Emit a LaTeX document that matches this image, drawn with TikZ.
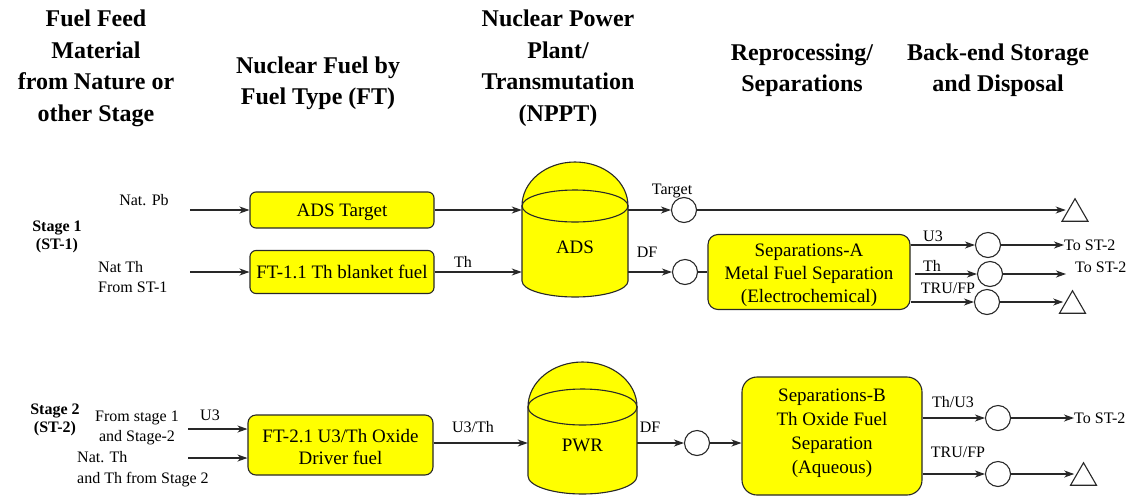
\documentclass[tikz,border=0pt]{standalone}
\usepackage{fontspec}
\setmainfont{Liberation Serif}
\newfontfamily\tnr{Liberation Serif}
\usetikzlibrary{arrows.meta,shapes.geometric}
\definecolor{fy}{RGB}{255,255,0}
\definecolor{lc}{RGB}{40,40,40}
\newcommand\hdf{\tnr\fontsize{24}{29}\selectfont\bfseries}
\newcommand\bxf{\tnr\fontsize{19}{23}\selectfont}
\newcommand\reactorshape[6]{%
  \filldraw[fill=fy, draw=lc, line width=1.1pt]
    (#1-#2,#3) -- (#1-#2,#4)
    arc[start angle=180, end angle=0, x radius=#2, y radius=#5]
    -- (#1+#2,#3)
    arc[start angle=0, end angle=-180, x radius=#2, y radius=#6] -- cycle;
  \draw[lc, line width=1.1pt] (#1,#3) ellipse[x radius=#2, y radius=#5];}
\begin{document}
\begin{tikzpicture}[x=1pt,y=-1pt,
  every node/.style={inner sep=0pt},
  lbl/.style={font=\tnr\fontsize{16}{20}\selectfont},
  stg/.style={font=\tnr\fontsize{16}{18.5}\selectfont\bfseries, align=center},
  hl/.style={anchor=base},
  fbox/.style={draw=lc, fill=fy, line width=1.1pt, rounded corners=6pt},
  pt/.style={circle, draw=lc, line width=1.1pt, fill=white, minimum size=25pt},
  tri/.style={regular polygon, regular polygon sides=3, draw=lc, line width=1.1pt,
    fill=white, minimum size=30pt},
  arr/.style={draw=lc, line width=1.1pt, -{Stealth[length=10pt,width=7pt,inset=3pt]}},
  conn/.style={draw=lc, line width=1.1pt}]
\useasboundingbox (0,0) rectangle (1132,496);
\fill[white] (0,0) rectangle (1132,496);

% headings
\node[hl] (h1a) at (96,26.5) {\hdf Fuel Feed};
\node[hl] (h1b) at (96,58) {\hdf Material};
\node[hl] (h1c) at (96,89.5) {\hdf from Nature or};
\node[hl] (h1d) at (96,121) {\hdf other Stage};
\node[hl] (h2a) at (318,73) {\hdf Nuclear Fuel by};
\node[hl] (h2b) at (318,104.5) {\hdf Fuel Type (FT)};
\node[hl] (h3a) at (558,26.5) {\hdf Nuclear Power};
\node[hl] (h3b) at (558,58) {\hdf Plant/};
\node[hl] (h3c) at (558,89.5) {\hdf Transmutation};
\node[hl] (h3d) at (558,121) {\hdf (NPPT)};
\node[hl] (h4a) at (802,60) {\hdf Reprocessing/};
\node[hl] (h4b) at (802,91.5) {\hdf Separations};
\node[hl] (h5a) at (998,60) {\hdf Back-end Storage};
\node[hl] (h5b) at (998,91.5) {\hdf and Disposal};

% ---------------- Stage 1
\node[stg] (s1) at (57,237) {Stage 1\\(ST-1)};
\node[lbl] (lpb) at (144,200) {Nat. Pb};
\node[lbl, align=left, anchor=west] (lth) at (98,277) {Nat Th\\From ST-1};
\coordinate (in1) at (190,0);

\node[fbox, minimum width=184pt, minimum height=36pt] (adst) at (342,210) {};
\node[hl] (adstT) at (342,216.5) {\bxf ADS Target};
\node[fbox, minimum width=184pt, minimum height=43pt] (ft11) at (342,272) {};
\node[hl] (ft11T) at (342,278.5) {\bxf FT-1.1 Th blanket fuel};
\draw[arr] (in1 |- adst.west) -- (adst.west);
\draw[arr] (in1 |- ft11.west) -- (ft11.west);

\reactorshape{575}{53}{206}{281}{16}{44}
\node[minimum width=106pt, minimum height=60pt] (ads) at (575,247) {};
\node[hl] (adsT) at (575,253.5) {\bxf ADS};
\draw[arr] (adst.east) -- (adst.east -| ads.west);
\draw[arr] (ft11.east) -- (ft11.east -| ads.west);
\node[lbl] (lth2) at (463,262) {Th};

\node[pt] (c1) at (684,210) {};
\node[pt] (c2) at (685,272) {};
\draw[arr] (c1 -| ads.east) -- (c1.west);
\draw[arr] (c2 -| ads.east) -- (c2.west);
\node[lbl] (ltg) at (672,191) {Target};
\node[lbl] (ldf1) at (647,252) {DF};

\node[tri] (t1) at (1075,213.75) {};
\draw[arr] (c1.east) -- (c1 -| t1.west);

\node[fbox, rounded corners=10pt, minimum width=202pt, minimum height=75pt] (sepa) at (809,272) {};
\node[hl] (sepaT1) at (809,256.5) {\bxf Separations-A};
\node[hl] (sepaT2) at (809,279.5) {\bxf Metal Fuel Separation};
\node[hl] (sepaT3) at (809,302.5) {\bxf (Electrochemical)};
\draw[conn] (c2.east) -- (c2 -| sepa.west);

\coordinate (yu3) at (0,245);
\coordinate (ytr) at (0,302);
\node[pt] (c3) at (988,245) {};
\node[pt] (c4) at (990,274) {};
\node[pt] (c5) at (987,302) {};
\draw[arr] (yu3 -| sepa.east) -- (c3.west);
\coordinate (thst) at (915,274);
\draw[arr] (thst) -- (c4.west);
\draw[arr] (ytr -| sepa.east) -- (c5.west);
\node[lbl] (lu3) at (933,236) {U3};
\node[lbl] (lth3) at (932,266) {Th};
\node[lbl] (ltr1) at (948,288) {TRU/FP};

\node[lbl, anchor=west] (to1) at (1064,245) {To ST-2};
\draw[arr] (c3.east) -- (to1.west);
\coordinate (e4) at (1066,274);
\draw[arr] (c4.east) -- (e4);
\node[lbl, anchor=west] (to2) at (1075,267) {To ST-2};
\node[tri] (t2) at (1072.5,305.75) {};
\draw[arr] (c5.east) -- (c5 -| t2.west);

% ---------------- Stage 2
\node[stg] (s2) at (55,420) {Stage 2\\(ST-2)};
\node[lbl, align=center] (lfs) at (137,427.5) {From stage 1\\and Stage-2};
\node[lbl] (lu3b) at (210,415) {U3};
\node[lbl, align=left, anchor=west, font=\tnr\fontsize{16}{21.5}\selectfont] (lnt) at (77,469) {Nat. Th\\and Th from Stage 2};
\coordinate (in2) at (188,429);
\coordinate (in3) at (188,458);

\node[fbox, rounded corners=8pt, minimum width=185pt, minimum height=60pt] (ft21) at (340.5,445) {};
\node[hl] (ft21T1) at (340.5,442.5) {\bxf FT-2.1 U3/Th Oxide};
\node[hl] (ft21T2) at (340.5,464.5) {\bxf Driver fuel};
\draw[arr] (in2) -- (in2 -| ft21.west);
\draw[arr] (in3) -- (in3 -| ft21.west);

\reactorshape{582.5}{54.5}{407}{476}{18}{45}
\node[minimum width=109pt, minimum height=60pt] (pwr) at (582.5,445) {};
\node[hl] (pwrT) at (582.5,451.5) {\bxf PWR};
\coordinate (y43) at (0,443);
\draw[arr] (y43 -| ft21.east) -- (y43 -| pwr.west);
\node[lbl] (lut) at (473,427) {U3/Th};

\node[pt] (c6) at (697,443) {};
\draw[arr] (y43 -| pwr.east) -- (c6.west);
\node[lbl] (ldf2) at (650,427) {DF};

\node[fbox, rounded corners=15pt, minimum width=180pt, minimum height=118pt] (sepb) at (832,436) {};
\node[hl] (sepbT1) at (832,401.5) {\bxf Separations-B};
\node[hl] (sepbT2) at (832,425.5) {\bxf Th Oxide Fuel};
\node[hl] (sepbT3) at (832,449.5) {\bxf Separation};
\node[hl] (sepbT4) at (832,473.5) {\bxf (Aqueous)};
\draw[arr] (c6.east) -- (c6 -| sepb.west);

\node[pt] (c7) at (998,418) {};
\node[pt] (c8) at (998,474) {};
\draw[arr] (c7 -| sepb.east) -- (c7.west);
\draw[arr] (c8 -| sepb.east) -- (c8.west);
\node[lbl] (lthu) at (953,402) {Th/U3};
\node[lbl] (ltr2) at (958,452) {TRU/FP};
\node[lbl, anchor=west] (to3) at (1074,418) {To ST-2};
\draw[arr] (c7.east) -- (to3.west);
\node[tri] (t3) at (1083.5,477.75) {};
\draw[arr] (c8.east) -- (c8 -| t3.west);
\end{tikzpicture}
\end{document}
